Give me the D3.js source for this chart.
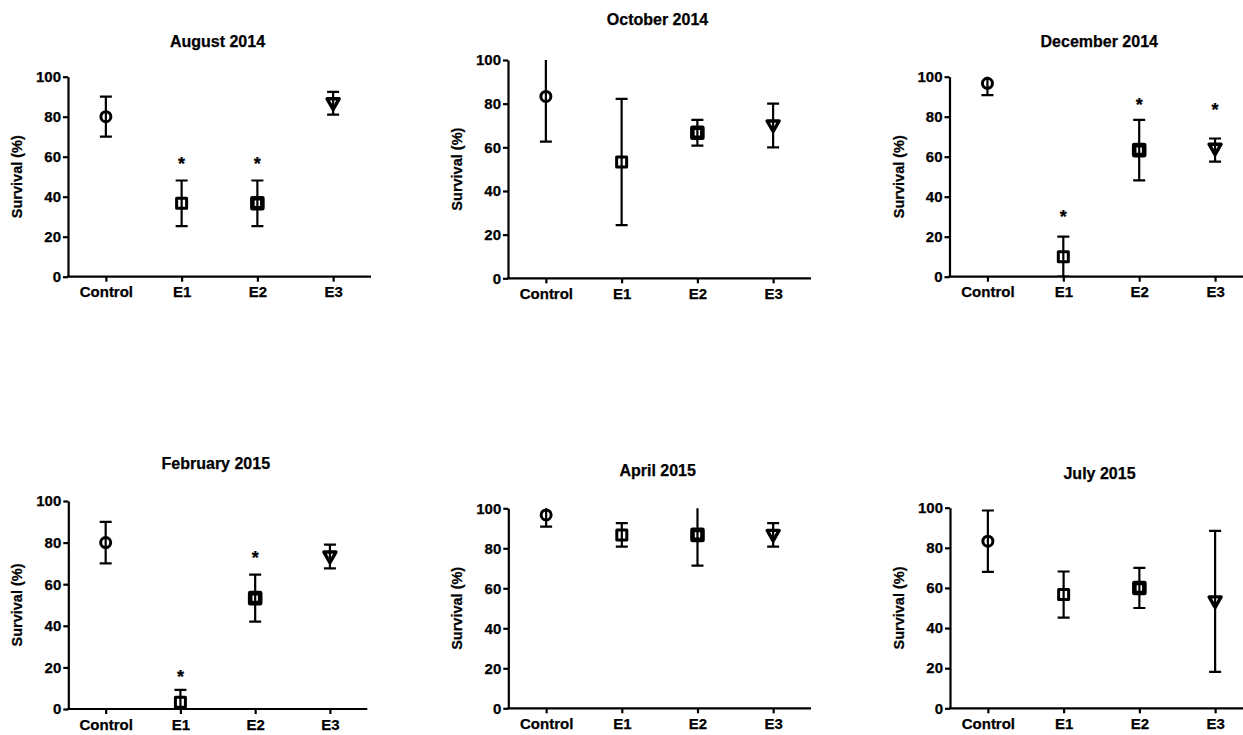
<!DOCTYPE html>
<html>
<head>
<meta charset="utf-8">
<script src="https://cdn.jsdelivr.net/npm/d3@7"></script>
<style>
  html, body { margin: 0; padding: 0; background: #fff; }
  svg text { font-family: "Liberation Sans", Arial, Helvetica, sans-serif; font-weight: bold; fill: #000; stroke: #000; stroke-width: 0.25px; }
</style>
</head>
<body>
<div id="chart"></div>
<script>
// ---------- data ----------
const categories = ['Control', 'E1', 'E2', 'E3'];
const panelTitles = ['August 2014', 'October 2014', 'December 2014', 'February 2015', 'April 2015', 'July 2015'];
const yTicks = [0, 20, 40, 60, 80, 100];

// mean survival (%) per category, one row per panel
const means = [
  [80, 36.7, 36.7, 86.7],
  [83.3, 53.3, 66.7, 70],
  [96.7, 10, 63.3, 64],
  [80, 3.3, 53.3, 73.3],
  [96.7, 86.7, 86.7, 86.7],
  [83.3, 56.7, 60, 53.3]
];
// error bar ends (values above 100 are clipped by the axis)
const lower = [
  [70, 25.3, 25.3, 81],
  [62.6, 24.4, 60.8, 60],
  [90.8, 0, 48.2, 57.5],
  [70, 0, 42, 67.6],
  [90.8, 80.8, 71.3, 80.8],
  [68, 45.2, 50, 18.2]
];
const upper = [
  [90, 48.1, 48.1, 92.4],
  [104, 82.2, 72.6, 80],
  [102.6, 20, 78.4, 69.1],
  [90, 9.2, 64.6, 79],
  [102.6, 92.6, 102.1, 92.6],
  [98.6, 68.2, 70, 88.4]
];
// level of the significance asterisk (null = none)
const sigLevel = [
  [null, 58.3, 58.3, null],
  [null, null, null, null],
  [null, 31.7, 87.8, 85.3],
  [null, 17.1, 74.4, null],
  [null, null, null, null],
  [null, null, null, null]
];

// ---------- layout ----------
const width = 1243, height = 735;
const layout = [
  { x0: 68, x1: 371, top: 76.7, bottom: 276.7, titleY: 47 },
  { x0: 508, x1: 811, top: 60, bottom: 278.3, titleY: 25 },
  { x0: 949.5, x1: 1253, top: 76.7, bottom: 276.7, titleY: 47 },
  { x0: 68.3, x1: 367.3, top: 501, bottom: 709, titleY: 468.5 },
  { x0: 508.3, x1: 811, top: 508.3, bottom: 708.3, titleY: 476 },
  { x0: 950, x1: 1253, top: 507.7, bottom: 708.3, titleY: 478.5 }
];

const svg = d3.select('#chart').append('svg')
  .attr('width', width)
  .attr('height', height);

const defs = svg.append('defs');

function markerPath(i) {
  if (i === 3) return 'M-6,-4.5L6,-4.5L0,6Z';
  return 'M-5,-5H5V5H-5Z';
}

layout.forEach((L, p) => {
  const g = svg.append('g');

  const x = d3.scalePoint().domain(categories).range([L.x0, L.x1]).padding(0.5);
  const y = d3.scaleLinear().domain([0, 100]).range([L.bottom, L.top]);

  // title
  g.append('text')
    .attr('x', (L.x0 + L.x1) / 2 - 2)
    .attr('y', L.titleY)
    .attr('text-anchor', 'middle')
    .attr('font-size', 16)
    .text(panelTitles[p]);

  // y axis
  const yAxis = g.append('g')
    .attr('transform', `translate(${L.x0},0)`)
    .call(d3.axisLeft(y).tickValues(yTicks).tickSize(5).tickSizeOuter(0).tickPadding(2));
  yAxis.selectAll('path, line').attr('stroke', '#000').attr('stroke-width', 2.2);
  yAxis.selectAll('text').attr('font-size', 15).attr('fill', '#000');

  // x axis
  const xAxis = g.append('g')
    .attr('transform', `translate(0,${L.bottom})`)
    .call(d3.axisBottom(x).tickSize(5).tickSizeOuter(0).tickPadding(5));
  xAxis.select('.domain').attr('d', `M${L.x0 - 1},0H${L.x1}`);
  xAxis.selectAll('path, line').attr('stroke', '#000').attr('stroke-width', 2.2);
  xAxis.selectAll('text').attr('font-size', 15).attr('fill', '#000');

  // y label
  g.append('text')
    .attr('transform', `translate(${L.x0 - 46},${(L.top + L.bottom) / 2}) rotate(-90)`)
    .attr('text-anchor', 'middle')
    .attr('font-size', 14.5)
    .text('Survival (%)');

  // clip for error bars
  const clipId = 'clip' + p;
  defs.append('clipPath').attr('id', clipId)
    .append('rect')
    .attr('x', L.x0).attr('y', y(100))
    .attr('width', L.x1 - L.x0).attr('height', y(0) - y(100));

  const rows = categories.map((c, i) => ({
    cat: c, i, mean: means[p][i], lo: lower[p][i], hi: upper[p][i], sig: sigLevel[p][i]
  }));

  const bars = g.append('g').attr('clip-path', `url(#${clipId})`)
    .attr('stroke', '#000').attr('stroke-width', 2.2);
  const capW = 6;
  bars.selectAll('line.v').data(rows).join('line').attr('class', 'v')
    .attr('x1', d => x(d.cat)).attr('x2', d => x(d.cat))
    .attr('y1', d => y(d.lo)).attr('y2', d => y(d.hi));
  bars.selectAll('line.hi').data(rows).join('line').attr('class', 'hi')
    .attr('x1', d => x(d.cat) - capW).attr('x2', d => x(d.cat) + capW)
    .attr('y1', d => y(d.hi)).attr('y2', d => y(d.hi));
  bars.selectAll('line.lo').data(rows).join('line').attr('class', 'lo')
    .attr('x1', d => x(d.cat) - capW).attr('x2', d => x(d.cat) + capW)
    .attr('y1', d => y(d.lo)).attr('y2', d => y(d.lo));

  // markers
  const marks = g.append('g').attr('fill', 'none').attr('stroke', '#000');
  rows.forEach(d => {
    if (d.i === 0) {
      marks.append('circle')
        .attr('cx', x(d.cat)).attr('cy', y(d.mean)).attr('r', 5)
        .attr('stroke-width', 3);
    } else {
      marks.append('path')
        .attr('d', markerPath(d.i))
        .attr('transform', `translate(${x(d.cat)},${y(d.mean)})`)
        .attr('stroke-width', d.i === 1 ? 3 : (d.i === 2 ? 4.6 : 3.4))
        .attr('stroke-linejoin', 'round');
    }
  });

  // significance asterisks
  g.selectAll('text.sig').data(rows.filter(d => d.sig != null)).join('text')
    .attr('class', 'sig')
    .attr('x', d => x(d.cat))
    .attr('y', d => y(d.sig) + 10)
    .attr('text-anchor', 'middle')
    .attr('font-size', 18)
    .text('*');
});
</script>
</body>
</html>
